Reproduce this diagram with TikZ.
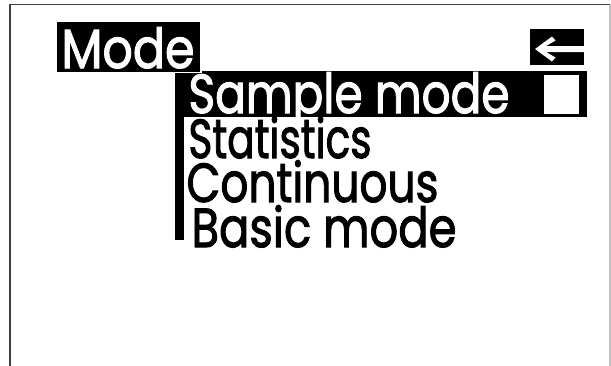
\documentclass[tikz,border=0pt]{standalone}
\usepackage{fontspec}
\setmainfont{Poppins}
\newfontfamily\menufont{Poppins}[FakeBold=2]
\usepackage{graphicx}
\newcommand\fitw[2]{\raisebox{0pt}[40pt][2pt]{\resizebox{#1pt}{\height}{\fontsize{55}{55}\menufont #2}}}
\tikzset{
  txt/.style={anchor=base west, inner sep=0pt, outer sep=0pt},
  inv/.style={txt, text=white},
  framedark/.style={draw=black!75, line width=1.5pt},
  framelight/.style={draw=black!25, line width=1.2pt},
}
\begin{document}
\begin{tikzpicture}[x=1pt,y=-1pt]
\useasboundingbox (0,0) rectangle (611,365);
\clip (0,0) rectangle (611,365);
% outer frame
\draw[framedark] (10,370) -- (10,4.5) -- (610,4.5);
\draw[framelight] (610,4.5) -- (610,370);
% vertical bar and highlighted line
\fill[black] (174.5,74) rectangle (183.5,240);
\fill[black] (174.5,71) rectangle (587,117);
\fill[white] (544,75) rectangle (579,113.5);
% Mode title box
\filldraw[fill=black, draw=white, line width=1.5pt] (56,21.5) rectangle (201,72.5);
% back arrow box
\fill[black] (530,29) rectangle (584,65);
\fill[white] (535,49) -- (552,36.5) -- (555.5,40.5) -- (546,46) -- (584,46)
  -- (584,52) -- (546,52) -- (555.5,57.5) -- (552,61.5) -- cycle;
% texts
\node[inv] (mode) at (61.5,68) {\fitw{133}{Mode}};
\node[inv] (sample) at (188.5,113) {\fitw{321}{Sample mode}};
\node[txt] (stats) at (188.5,158) {\fitw{183}{Statistics}};
\node[txt] (cont) at (186.5,202) {\fitw{252}{Continuous}};
\node[txt] (basic) at (191.5,247) {\fitw{265}{Basic mode}};
\end{tikzpicture}
\end{document}
